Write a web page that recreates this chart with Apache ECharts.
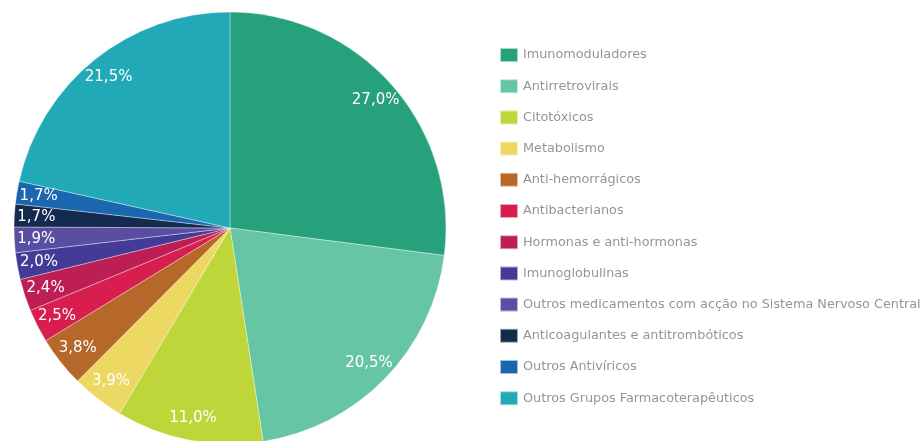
<!DOCTYPE html>
<html><head><meta charset="utf-8">
<script src="https://cdn.jsdelivr.net/npm/echarts@6/dist/echarts.min.js"></script>
<style>html,body{margin:0;padding:0;background:#fff}#c{width:921px;height:441px}</style>
</head><body><div id="c"></div>
<script>
const categories = ["Imunomoduladores","Antirretrovirais","Citotóxicos","Metabolismo","Anti-hemorrágicos","Antibacterianos","Hormonas e anti-hormonas","Imunoglobulinas","Outros medicamentos com acção no Sistema Nervoso Central","Anticoagulantes e antitrombóticos","Outros Antivíricos","Outros Grupos Farmacoterapêuticos"];
const values = [27.0,20.5,11.0,3.9,3.8,2.5,2.4,2.0,1.9,1.7,1.7,21.5];
const colors = ["#27a07c","#66c5a2","#bfd63a","#ecd862","#b5682a","#d81e4e","#be1e56","#433b96","#5a4ea3","#142a4e","#1a67b0","#22a9b8"];

const chart = echarts.init(document.getElementById('c'));
const data = categories.map((n,i)=>({name:n, value:values[i]}));
chart.setOption({
  animation:false,
  color: colors,
  legend:{
    orient:'vertical', left:499, top:47, padding:0,
    itemWidth:18, itemHeight:14, itemGap:15.2,
    icon:'rect',
    textStyle:{fontFamily:'DejaVu Sans', fontSize:12.8, color:'#959595', padding:[0,0,0,0]},
    data: categories
  },
  series:[
    {type:'pie', center:[230,228], radius:[0,216], data:data, label:{show:false}, labelLine:{show:false},
     itemStyle:{borderColor:'rgba(255,255,255,0.6)', borderWidth:0.6}},
    {type:'pie', center:[230,228], radius:[166,216], data:data, silent:true,
     itemStyle:{color:'rgba(0,0,0,0)'}, labelLine:{show:false},
     label:{show:true, position:'inside', color:'#fff', fontFamily:'DejaVu Sans', fontSize:15,
       formatter:p=>p.value.toFixed(1).replace('.',',')+'%'}}
  ]
});
</script></body></html>
